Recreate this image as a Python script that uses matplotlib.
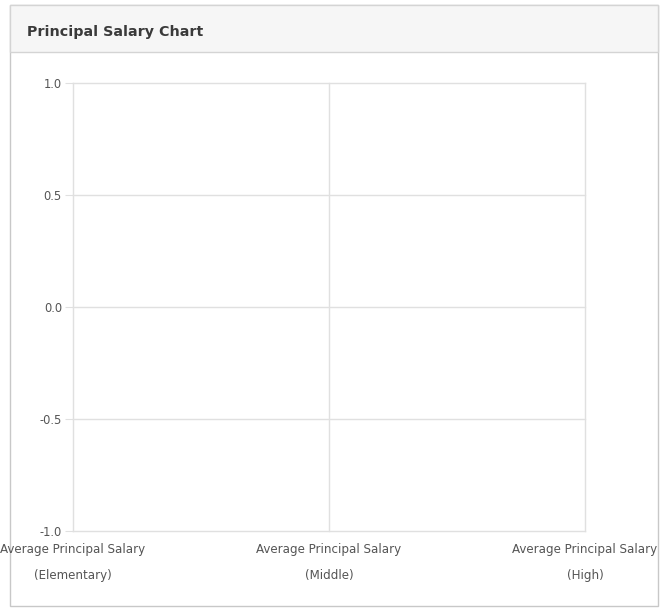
import matplotlib.pyplot as plt
from matplotlib.patches import Rectangle
import numpy as np

# chart data (the source chart shows no values)
categories = ['Average Principal Salary\n(Elementary)',
              'Average Principal Salary\n(Middle)',
              'Average Principal Salary\n(High)']
salaries = [np.nan, np.nan, np.nan]
y_ticks = [-1.0, -0.5, 0.0, 0.5, 1.0]

W, H = 661, 611
fig = plt.figure(figsize=(W / 100, H / 100), dpi=100)
fig.patch.set_facecolor('white')

# panel frame and header band
fig.patches.append(Rectangle((10 / W, 1 - 606 / H), 648 / W, 601 / H,
                             transform=fig.transFigure, facecolor='white',
                             edgecolor='#c8c8c8', linewidth=1.0, zorder=-10))
fig.patches.append(Rectangle((10 / W, 1 - 52 / H), 648 / W, 47 / H,
                             transform=fig.transFigure, facecolor='#f6f6f6',
                             edgecolor='#d4d4d4', linewidth=1.0, zorder=-9))
fig.text(27 / W, 1 - 32 / H, 'Principal Salary Chart', fontsize=10.3,
         fontweight='bold', color='#3a3a3a', va='center', ha='left')

ax = fig.add_axes([73 / W, 1 - 531 / H, 512 / W, 448 / H])
ax.set_facecolor('none')
ax.set_zorder(1)
x = np.arange(len(categories))
ax.plot(x, salaries, color='#4a7ebb')

ax.set_xlim(0, len(categories) - 1)
ax.set_ylim(-1.0, 1.0)
ax.set_yticks(y_ticks)
ax.set_yticklabels([f'{v:.1f}' for v in y_ticks])
ax.set_xticks(x)
ax.set_xticklabels(categories, linespacing=2.2)

ax.grid(True, color='#e0e0e0', linewidth=1.0)
for gl in ax.get_xgridlines() + ax.get_ygridlines():
    gl.set_clip_on(False)
for s in ax.spines.values():
    s.set_visible(False)
ax.tick_params(axis='y', length=6, color='#e0e0e0', labelsize=8.3,
               labelcolor='#555555', pad=2)
ax.tick_params(axis='x', length=0, labelsize=8.6, labelcolor='#555555', pad=9)

plt.savefig('out.png', dpi=100)
plt.close()
